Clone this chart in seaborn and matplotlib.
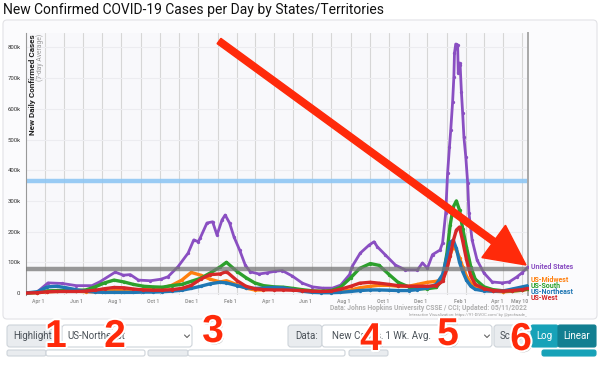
import numpy as np
import pandas as pd
import matplotlib
matplotlib.use("Agg")
import matplotlib.pyplot as plt
import matplotlib.dates as mdates
import matplotlib.patches as mpatches
import matplotlib.patheffects as pe
from matplotlib.transforms import IdentityTransform
import seaborn as sns

W, H = 600, 368

# --- data: new cases per day, 7-day average, in thousands ---
us_dates = [
    "2020-03-01", "2020-03-19", "2020-04-06", "2020-04-29", "2020-05-21", "2020-06-15",
    "2020-06-28", "2020-07-22", "2020-08-04", "2020-08-15", "2020-08-28", "2020-09-16",
    "2020-10-03", "2020-10-14", "2020-10-30", "2020-11-15", "2020-11-24", "2020-12-01",
    "2020-12-04", "2020-12-15", "2020-12-24", "2020-12-31", "2021-01-08", "2021-01-13",
    "2021-01-20", "2021-01-27", "2021-02-05", "2021-02-14", "2021-02-22", "2021-03-08",
    "2021-03-21", "2021-04-03", "2021-04-14", "2021-04-30", "2021-05-16", "2021-06-01",
    "2021-06-17", "2021-07-03", "2021-07-16", "2021-07-30", "2021-08-03", "2021-08-16",
    "2021-08-30", "2021-09-07", "2021-09-12", "2021-09-25", "2021-10-11", "2021-10-27",
    "2021-11-15", "2021-11-23", "2021-12-01", "2021-12-09", "2021-12-21", "2021-12-25",
    "2021-12-30", "2022-01-02", "2022-01-05", "2022-01-07", "2022-01-10", "2022-01-12",
    "2022-01-13", "2022-01-15", "2022-01-18", "2022-01-19", "2022-01-21", "2022-01-22",
    "2022-01-24", "2022-01-26", "2022-01-28", "2022-01-31", "2022-02-03", "2022-02-05",
    "2022-02-10", "2022-02-18", "2022-03-01", "2022-03-14", "2022-03-30", "2022-04-10",
    "2022-04-22", "2022-04-30", "2022-05-10",
]
us_cases = [
    0, 2, 33, 31, 24, 24,
    37, 68, 58, 60, 42, 40,
    45, 53, 86, 130, 173, 167,
    178, 228, 232, 189, 238, 254,
    228, 183, 140, 91, 69, 62,
    66, 71, 73, 55, 32, 20,
    16, 16, 26, 60, 86, 130,
    156, 167, 151, 124, 91, 75,
    75, 98, 81, 125, 140, 163,
    260, 390, 476, 530, 622, 704,
    782, 811, 808, 716, 749, 743,
    655, 586, 508, 443, 358, 260,
    173, 107, 65, 36, 33, 36,
    52, 65, 85,
]

region_dates = [
    "2020-03-01", "2020-03-20", "2020-04-05", "2020-04-20", "2020-05-05", "2020-05-20",
    "2020-06-05", "2020-06-20", "2020-07-05", "2020-07-20", "2020-08-05", "2020-08-20",
    "2020-09-05", "2020-09-20", "2020-10-05", "2020-10-20", "2020-11-05", "2020-11-20",
    "2020-12-05", "2020-12-20", "2021-01-05", "2021-01-15", "2021-02-01", "2021-02-15",
    "2021-03-01", "2021-03-15", "2021-04-01", "2021-04-15", "2021-05-01", "2021-05-15",
    "2021-06-01", "2021-06-15", "2021-07-01", "2021-07-15", "2021-08-01", "2021-08-15",
    "2021-09-01", "2021-09-15", "2021-10-01", "2021-10-15", "2021-11-01", "2021-11-15",
    "2021-12-01", "2021-12-15", "2021-12-25", "2022-01-01", "2022-01-06", "2022-01-11",
    "2022-01-16", "2022-01-21", "2022-01-26", "2022-02-01", "2022-02-08", "2022-02-15",
    "2022-03-01", "2022-03-15", "2022-04-01", "2022-04-15", "2022-05-01", "2022-05-10",
]
midwest = [
    0, 1, 4, 5, 6, 6, 4, 4, 5, 8, 10, 10,
    11, 13, 16, 25, 42, 67, 58, 45, 36, 40, 27, 16,
    10, 10, 14, 17, 13, 8, 4, 2, 2, 4, 10, 17,
    22, 25, 25, 22, 22, 28, 35, 38, 45, 80, 125, 150,
    140, 115, 85, 55, 32, 18, 9, 6, 4, 6, 9, 12,
]
south = [
    0, 2, 7, 8, 8, 8, 10, 20, 33, 42, 36, 28,
    22, 20, 19, 24, 28, 38, 48, 65, 85, 100, 70, 50,
    33, 24, 20, 19, 15, 11, 7, 6, 8, 18, 50, 80,
    96, 90, 60, 35, 20, 14, 14, 18, 45, 130, 220, 280,
    300, 270, 210, 150, 85, 45, 20, 11, 7, 7, 9, 14,
]
northeast = [
    0, 4, 20, 22, 17, 11, 6, 3, 2, 2, 2, 2,
    3, 3, 4, 6, 9, 15, 22, 30, 35, 33, 24, 17,
    15, 16, 18, 17, 11, 6, 2, 1, 1, 2, 5, 8,
    10, 10, 9, 8, 8, 11, 17, 28, 60, 120, 165, 172,
    145, 100, 70, 42, 22, 12, 7, 6, 7, 13, 20, 24,
]
west = [
    0, 1, 4, 5, 5, 5, 6, 9, 14, 18, 17, 13,
    10, 9, 9, 11, 15, 25, 45, 60, 62, 70, 40, 22,
    14, 11, 10, 10, 9, 8, 6, 5, 6, 12, 22, 32,
    35, 32, 28, 24, 22, 22, 22, 24, 38, 80, 120, 170,
    205, 215, 170, 110, 55, 28, 14, 8, 6, 8, 11, 15,
]

series_names = ["United States", "US-Midwest", "US-South", "US-Northeast", "US-West"]
series_colors = ["#8a4fc2", "#ff7f0e", "#2ca02c", "#1f77b4", "#d62728"]

blue_line = 365   # thousands
gray_line = 78

xtick_dates = ["2020-04-01", "2020-06-01", "2020-08-01", "2020-10-01", "2020-12-01",
               "2021-02-01", "2021-04-01", "2021-06-01", "2021-08-01", "2021-10-01",
               "2021-12-01", "2022-02-01", "2022-04-01", "2022-05-10"]
xtick_labels = ["Apr 1", "Jun 1", "Aug 1", "Oct 1", "Dec 1", "Feb 1", "Apr 1",
                "Jun 1", "Aug 1", "Oct 1", "Dec 1", "Feb 1", "Apr 1", "May 10"]
ytick_vals = [0, 100, 200, 300, 400, 500, 600, 700, 800]
ytick_labels = ["0", "100k", "200k", "300k", "400k", "500k", "600k", "700k", "800k"]

# --- style ---
sns.set_theme(style="white")
plt.rcParams["font.family"] = ["Roboto", "DejaVu Sans"]

fig = plt.figure(figsize=(W / 100, H / 100), dpi=100)
fig.patch.set_facecolor("white")
ident = IdentityTransform()


def fx(x, y):
    return x / W, 1 - y / H


def box(x0, y0, x1, y1, fc, ec, r=3, z=-1):
    p = mpatches.FancyBboxPatch((x0, H - y1), x1 - x0, y1 - y0,
                                boxstyle=f"round,pad=0,rounding_size={r}",
                                fc=fc, ec=ec, lw=0.8, transform=ident, zorder=z)
    fig.add_artist(p)


# panel behind the chart
box(3, 20, 597, 319, "#fbfbfd", "#e2e2e6", r=4, z=-2)

ax = fig.add_axes([26 / W, 1 - 295 / H, (528 - 26) / W, (295 - 33) / H])
ax.set_facecolor("#f8f8fb")

us = pd.DataFrame({"date": pd.to_datetime(us_dates), "cases": np.array(us_cases) * 1000})
reg = pd.DataFrame({
    "date": pd.to_datetime(region_dates),
    "US-Midwest": np.array(midwest) * 1000,
    "US-South": np.array(south) * 1000,
    "US-Northeast": np.array(northeast) * 1000,
    "US-West": np.array(west) * 1000,
})

ax.axhline(blue_line * 1000, color="#8fc7f4", lw=3.2, alpha=0.9, zorder=1)

sns.lineplot(data=us, x="date", y="cases", ax=ax, color=series_colors[0], lw=2.0,
             marker="o", markersize=2.4, markeredgewidth=0, zorder=3)
for name, col in zip(series_names[1:], series_colors[1:]):
    sns.lineplot(data=reg, x="date", y=name, ax=ax, color=col, lw=2.4,
                 marker="o", markersize=2.4, markeredgewidth=0, zorder=3)

ax.axhline(gray_line * 1000, color="#777777", lw=3.2, alpha=0.75, zorder=4)

ax.set_xlim(pd.Timestamp("2020-03-02"), pd.Timestamp("2022-05-10"))
ax.set_ylim(-6500, 847000)
ax.set_xlabel("")
ax.set_ylabel("")

ax.set_xticks(pd.to_datetime(xtick_dates))
ax.set_xticklabels(xtick_labels, fontsize=3.8, color="#999999", fontweight="bold", ha="right")
ax.xaxis.set_minor_locator(mdates.MonthLocator())
ax.set_yticks([v * 1000 for v in ytick_vals])
ax.set_yticklabels(ytick_labels, fontsize=4.3, color="#333333")
ax.tick_params(axis="x", which="major", length=4, width=0.6, color="#bbbbbb", pad=-1)
ax.tick_params(axis="x", which="minor", length=0)
ax.tick_params(axis="y", length=3, width=0.6, color="#666666", pad=1)

ax.grid(True, axis="x", which="both", color="#d6d6d6", lw=0.8)
ax.grid(True, axis="y", color="#ececf0", lw=0.8)
ax.set_axisbelow(True)
for s in ["top", "bottom"]:
    ax.spines[s].set_visible(False)
ax.spines["left"].set_color("#999999")
ax.spines["left"].set_linewidth(0.8)
ax.spines["right"].set_color("#a8a8a8")
ax.spines["right"].set_linewidth(1.4)

# axis title inside the plot
fig.text(*fx(32, 34), "New Daily Confirmed Cases", rotation=90, ha="center", va="top",
         fontsize=5.9, fontweight="bold", color="#222222")
fig.text(*fx(40.5, 34), "(7-day Average)", rotation=90, ha="center", va="top",
         fontsize=4.9, color="#999999")

# series labels on the right
label_y = [267, 280, 286, 292, 297.5]
for name, col, y in zip(series_names, series_colors, label_y):
    fig.text(*fx(531, y), name, ha="left", va="center", fontsize=5.0,
             fontweight="bold", color=col)

# credits
fig.text(*fx(527, 308), "Data: Johns Hopkins University CSSE / CCI; Updated: 05/11/2022",
         ha="right", va="center", fontsize=4.9, fontweight="bold", color="#b0b0b0")
fig.text(*fx(527, 315), "Interactive Visualization: https://91-DIVOC.com/ by @profwade_",
         ha="right", va="center", fontsize=3.0, color="#999999")

# title
fig.text(*fx(3, 10), "New Confirmed COVID-19 Cases per Day by States/Territories",
         ha="left", va="center", fontsize=10, color="#111111")

# --- controls under the chart ---
gray_fc, gray_ec = "#e9ecef", "#ced4da"
box(7, 325, 62, 347, gray_fc, gray_ec)
box(62, 325, 192, 347, "white", gray_ec)
box(288, 325, 322, 347, gray_fc, gray_ec)
box(322, 325, 492, 347, "white", gray_ec)
box(494, 325, 531, 347, gray_fc, gray_ec)
box(531, 325, 558, 347, "#17a2b8", "#17a2b8", r=2)
box(558, 325, 596, 347, "#127f91", "#127f91", r=2)
for x0, x1, fc in [(7, 46, gray_fc), (46, 145, "white"), (148, 188, gray_fc),
                   (188, 345, "white"), (349, 388, gray_fc), (542, 596, "#17a2b8")]:
    box(x0, 350, x1, 356, fc, gray_ec if fc != "#17a2b8" else fc, r=2)

ui_font = dict(fontsize=7, color="#495057", va="center")
fig.text(*fx(13, 336), "Highlight", ha="left", **ui_font)
fig.text(*fx(67, 336), "US-Northeast", ha="left", **ui_font)
fig.text(*fx(295, 336), "Data:", ha="left", **ui_font)
fig.text(*fx(332, 336), "New Cases, 1 Wk. Avg.", ha="left", **ui_font)
fig.text(*fx(500, 336), "Scale", ha="left", **ui_font)
fig.text(*fx(544, 336), "Log", ha="center", va="center", fontsize=7, color="white")
fig.text(*fx(577, 336), "Linear", ha="center", va="center", fontsize=7, color="white")
for cx in [187, 487]:
    fig.add_artist(plt.Line2D([cx - 2.5, cx, cx + 2.5], [H - 335, H - 337.5, H - 335],
                              color="#666666", lw=0.8, transform=ident, zorder=2))

# --- red arrow and step numbers ---
arrow = mpatches.FancyArrow(219, H - 41, 307, -224, width=6.5, head_width=40,
                            head_length=40, length_includes_head=True,
                            color="#ff2a0a", transform=ident, zorder=10)
fig.add_artist(arrow)

steps = ["1", "2", "3", "4", "5", "6"]
step_x = [56, 115, 213, 371, 448, 521]
step_y = [337, 337, 332, 340, 335, 340]
effects = [pe.SimplePatchShadow(offset=(1, -1.5), shadow_rgbFace="#777777", alpha=0.5),
           pe.Stroke(linewidth=3, foreground="white"), pe.Normal()]
for s, x, y in zip(steps, step_x, step_y):
    fig.text(*fx(x, y), s, ha="center", va="center", fontsize=28, fontweight="bold",
             color="#ff2a0a", family=["Liberation Sans", "DejaVu Sans"],
             path_effects=effects, zorder=11)

fig.savefig("out.png", dpi=100)
